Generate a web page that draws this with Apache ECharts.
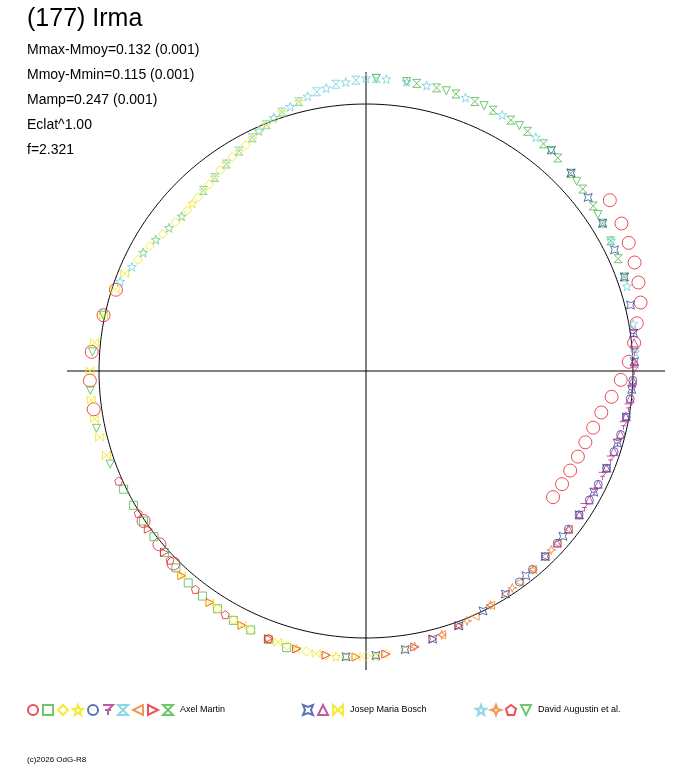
<!DOCTYPE html>
<html>
<head>
<meta charset="utf-8">
<script src="https://cdn.jsdelivr.net/npm/echarts@6/dist/echarts.min.js"></script>
<style>html,body{margin:0;padding:0;background:#fff}#chart{width:688px;height:768px}</style>
</head>
<body>
<div id="chart"></div>
<script>
// phase in degrees, reduced radius (1 = mean circle)
var amRedCircle = [[35,1.161],[40,1.150],[45,1.140],[50,1.127],[55,1.115],[60,1.105],[64,1.095],[68,1.085],[72,1.073],[76,1.060],[80,1.030],[84,1.010],[88,0.985],[92,0.955],[96,0.925],[100,0.895],[104,0.877],[108,0.864],[112,0.856],[116,0.851],[120,0.848],[124,0.845],
  [225,1.020],[230,1.010],[236,1.005],[262,1.030],[268,1.035],[274,1.030],[282,1.005],[288,0.985]];
var amGreenSquare = [[196,1.078],[200,1.070],[204,1.062],[208,1.058],[212,1.050],[216,1.042],[220,1.036],[224,1.025],[228,1.016],[232,1.008],[236,1.005],[240,1.006],[244,1.010]];
var amYellowDiamond = [[172,1.052],[176,1.062],[180,1.068],[184,1.074],[188,1.076],[192,1.074],[196,1.070],[200,1.066],[204,1.062],[208,1.056],[212,1.050],
  [296,0.950],[300,0.935],[304,0.918],[308,0.905],[312,0.900],[316,0.905],[320,0.913],[324,0.930],[328,0.945],[332,0.958],[336,0.985],[340,1.005]];
var amYellowStar = [[298,0.945],[302,0.930],[306,0.912],[310,0.900],[314,0.904],[318,0.910],[322,0.920],[326,0.937],[330,0.950],[334,0.970],[338,0.995],[342,1.020],[346,1.040],[178,1.070],[186,1.076],[194,1.072]];
var amBlueCircle = [[92,1.000],[96,0.995],[100,0.990],[104,0.983],[108,0.977],[112,0.972],[116,0.968],[120,0.966],[124,0.963],[128,0.962],[132,0.964],[136,0.966],[140,0.970],[144,0.977]];
var amPurple = [[82,1.012],[86,1.008],[90,1.005],[94,0.998],[98,0.993],[102,0.986],[106,0.980],[110,0.975],[114,0.970],[118,0.967],[122,0.965]];
var amCyan = [[318,0.910],[322,0.920],[326,0.935],[330,0.952],[334,0.972],[338,0.995],[342,1.020],[346,1.040],[350,1.062],[354,1.080],[358,1.090],[2,1.097]];
var amOrange = [[128,0.963],[132,0.964],[136,0.966],[140,0.971],[144,0.978],[148,0.985],[152,0.994],[156,1.005],[160,1.016],[164,1.028]];
var amRedTri = [[160,1.015],[166,1.035],[170,1.050],[176,1.063],[182,1.072],[188,1.075],[194,1.073],[200,1.067],[206,1.060],[214,1.046],[222,1.032],[228,1.016],[234,1.008]];
var amGreenHour = [[10,1.094],[14,1.093],[18,1.091],[22,1.089],[26,1.087],[30,1.085],[34,1.083],[38,1.080],[42,1.074],[46,1.066],[50,1.060],[54,1.052],[58,1.045],[62,1.038],[66,1.034],[70,1.030]];
var jmBlueX = [[40,1.080],[46,1.068],[52,1.056],[58,1.045],[64,1.036],[70,1.030],[76,1.021],[82,1.012],[88,1.006],[94,0.998],[100,0.990],[106,0.980],[112,0.972],[118,0.967],[124,0.963],[130,0.963],[136,0.966],[142,0.973],[148,0.985],[154,1.000],[160,1.016],[166,1.035],[172,1.054],[178,1.066],[184,1.073]];
var jmPurpleTri = [[84,1.010],[88,1.006],[92,1.000],[96,0.995],[100,0.988],[104,0.982],[108,0.976],[112,0.971],[116,0.968],[120,0.966],[124,0.964],[128,0.963],[132,0.963]];
var jmYellowBow = [[182,1.070],[190,1.075],[198,1.068],[206,1.060],[214,1.048],[222,1.032],[252,1.022],[256,1.028],[260,1.033],[264,1.035],[270,1.034],[276,1.022],[282,1.005],[288,0.988],[292,0.975]];
var daCyanStar = [[290,0.980],[294,0.960],[298,0.945],[302,0.928],[306,0.912],[310,0.902],[336,0.985],[340,1.010],[344,1.030],[348,1.052],[352,1.070],[356,1.085],[0,1.097],[4,1.096],[8,1.094],[12,1.093],[20,1.090],[28,1.086],[36,1.082],[62,1.040],[72,1.028],[80,1.016],[86,1.010]];
var daOrangeStar = [[134,0.965],[140,0.972],[146,0.980],[152,0.993],[158,1.010],[164,1.028],[170,1.048]];
var daRedPent = [[200,1.066],[210,1.054],[218,1.038],[226,1.020],[238,1.006],[246,1.014]];
var daGreenTri = [[2,1.097],[8,1.095],[16,1.092],[24,1.088],[32,1.084],[40,1.078],[48,1.062],[56,1.048],[250,1.020],[258,1.032],[266,1.035],[274,1.027],[282,1.006]];

var infoLines = ['Mmax-Mmoy=0.132 (0.001)', 'Mmoy-Mmin=0.115 (0.001)', 'Mamp=0.247 (0.001)', 'Eclat^1.00', 'f=2.321'];

var RED = '#e8202a', GREEN = '#4cb848', YELLOW = '#f2e600', BLUE = '#2e4fa3',
    PURPLE = '#b0328a', CYAN = '#6fcfe0', ORANGE = '#f07a2a';

var SYM = {
  hour: 'path://M0,0L10,0L0,10L10,10Z',
  bow: 'path://M0,0L10,10L10,0L0,10Z',
  star: 'path://M5,0L6.2,3.6L10,3.8L7,6.1L8.1,10L5,7.7L1.9,10L3,6.1L0,3.8L3.8,3.6Z',
  star4: 'path://M5,0L6.3,3.7L10,5L6.3,6.3L5,10L3.7,6.3L0,5L3.7,3.7Z',
  pent: 'path://M5,0L10,3.8L8.1,10L1.9,10L0,3.8Z',
  xstar: 'path://M0,0L5,2L10,0L8,5L10,10L5,8L0,10L2,5Z',
  tridown: 'path://M0,0L10,0L5,10Z',
  trileft: 'path://M10,0L10,10L0,5Z',
  triright: 'path://M0,0L10,5L0,10Z',
  pin: 'path://M0,0L10,0L5,5L5,10M2,5L8,5'
};

// polar data in ECharts is [radius, angle]
function toPolar(list) {
  return list.map(function (p) { return [p[1], p[0]]; });
}

function obs(name, data, color, symbol, size) {
  return {
    name: name, type: 'scatter', coordinateSystem: 'polar',
    data: toPolar(data), symbol: symbol, symbolSize: size || 8,
    itemStyle: { color: 'rgba(0,0,0,0)', borderColor: color, borderWidth: 1 },
    emphasis: { disabled: true }
  };
}

var refCircle = [];
for (var a = 0; a <= 360; a += 2) refCircle.push([a, 1]);

var series = [
  { type: 'line', coordinateSystem: 'polar', data: toPolar(refCircle), showSymbol: false, smooth: true,
    lineStyle: { color: '#000', width: 1 }, silent: true, z: 1 },
  obs('am1', amRedCircle, RED, 'circle', 13),
  obs('am2', amGreenSquare, GREEN, 'rect'),
  obs('am3', amYellowDiamond, YELLOW, 'diamond', 9),
  obs('am4', amYellowStar, YELLOW, SYM.star, 9),
  obs('am5', amBlueCircle, BLUE, 'circle'),
  obs('am6', amPurple, PURPLE, SYM.pin),
  obs('am7', amCyan, CYAN, SYM.hour),
  obs('am8', amOrange, ORANGE, SYM.trileft),
  obs('am9', amRedTri, RED, SYM.triright),
  obs('Axel Martin', amGreenHour, GREEN, SYM.hour),
  obs('jm1', jmBlueX, BLUE, SYM.xstar),
  obs('jm2', jmPurpleTri, PURPLE, 'triangle'),
  obs('Josep Maria Bosch', jmYellowBow, YELLOW, SYM.bow),
  obs('da1', daCyanStar, CYAN, SYM.star, 9),
  obs('da2', daOrangeStar, ORANGE, SYM.star4, 9),
  obs('da3', daRedPent, RED, SYM.pent),
  obs('David Augustin et al.', daGreenTri, GREEN, SYM.tridown)
];

function legendFor(names, left) {
  return {
    data: names, left: left, top: 699, orient: 'horizontal',
    itemWidth: 10, itemHeight: 10, itemGap: 3, selectedMode: false,
    textStyle: { fontFamily: 'Liberation Sans', fontSize: 9, color: '#000', padding: [0, 0, 0, 2] },
    formatter: function (n) { return n.length > 4 ? n : ''; }
  };
}

var graphics = [{ type: 'text', left: 27, top: 7, style: { text: '(177) Irma', font: '25px "Liberation Sans"', fill: '#000' } }];
infoLines.forEach(function (t, i) {
  graphics.push({ type: 'text', left: 27, top: 43 + i * 25, style: { text: t, font: '14px "Liberation Sans"', fill: '#000' } });
});
graphics.push({ type: 'text', left: 27, top: 756, style: { text: '(c)2026 OdG-R8', font: '8px "Liberation Sans"', fill: '#000' } });

var chart = echarts.init(document.getElementById('chart'));
chart.setOption({
  animation: false,
  backgroundColor: '#fff',
  polar: { center: [366, 371], radius: 299 },
  angleAxis: {
    type: 'value', min: 0, max: 360, interval: 90, startAngle: 90, clockwise: true,
    axisLine: { show: false }, axisTick: { show: false }, axisLabel: { show: false },
    splitLine: { show: true, lineStyle: { color: '#000', width: 1 } }
  },
  radiusAxis: {
    type: 'value', min: 0, max: 1.12, show: false,
    splitLine: { show: false }
  },
  legend: [
    legendFor(['am1','am2','am3','am4','am5','am6','am7','am8','am9','Axel Martin'], 22),
    legendFor(['jm1','jm2','Josep Maria Bosch'], 297),
    legendFor(['da1','da2','da3','David Augustin et al.'], 470)
  ],
  graphic: graphics,
  series: series
});
</script>
</body>
</html>
